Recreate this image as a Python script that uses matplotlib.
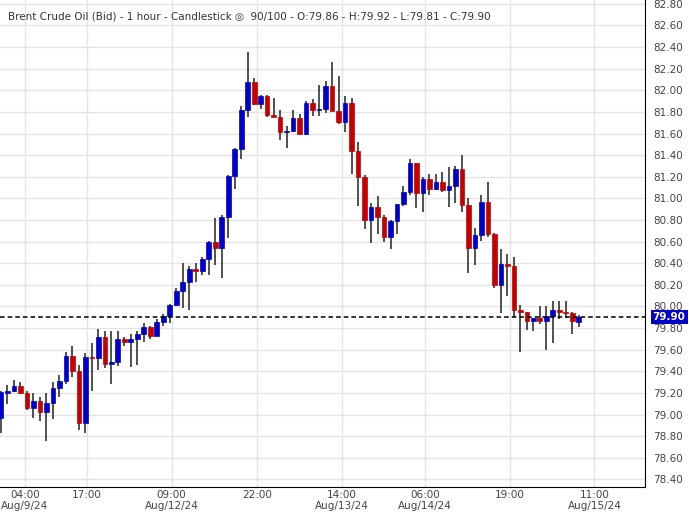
import matplotlib.pyplot as plt
from matplotlib.patches import Rectangle

# hourly OHLC
opens = [78.97, 79.20, 79.22, 79.26, 79.20, 79.06, 79.13, 79.02, 79.11, 79.25,
         79.31, 79.54, 79.40, 78.92, 79.53, 79.52, 79.72, 79.47, 79.49, 79.70,
         79.67, 79.70, 79.75, 79.81, 79.73, 79.86, 79.91, 80.01, 80.14, 80.23,
         80.35, 80.33, 80.44, 80.60, 80.54, 80.83, 81.21, 81.46, 81.82, 82.08,
         81.87, 81.95, 81.77, 81.75, 81.61, 81.62, 81.74, 81.60, 81.88, 81.82,
         81.83, 82.04, 81.81, 81.71, 81.88, 81.44, 81.20, 80.80, 80.92, 80.83,
         80.64, 80.79, 80.95, 81.06, 81.33, 81.05, 81.18, 81.09, 81.15, 81.08,
         81.11, 81.27, 80.94, 80.54, 80.66, 80.97, 80.67, 80.20, 80.39, 80.37,
         79.97, 79.95, 79.87, 79.89, 79.87, 79.91, 79.97, 79.95, 79.94, 79.86]
closes = [79.21, 79.22, 79.26, 79.20, 79.06, 79.13, 79.02, 79.11, 79.25, 79.31,
          79.54, 79.40, 78.92, 79.53, 79.52, 79.72, 79.47, 79.49, 79.70, 79.67,
          79.70, 79.75, 79.81, 79.73, 79.86, 79.91, 80.01, 80.14, 80.23, 80.35,
          80.33, 80.44, 80.60, 80.54, 80.83, 81.21, 81.46, 81.82, 82.08, 81.87,
          81.95, 81.77, 81.75, 81.61, 81.62, 81.74, 81.60, 81.88, 81.82, 81.83,
          82.04, 81.81, 81.71, 81.88, 81.44, 81.20, 80.80, 80.92, 80.83, 80.64,
          80.79, 80.95, 81.06, 81.33, 81.05, 81.18, 81.09, 81.15, 81.08, 81.11,
          81.27, 80.94, 80.54, 80.66, 80.97, 80.67, 80.20, 80.39, 80.37, 79.97,
          79.95, 79.87, 79.89, 79.87, 79.91, 79.97, 79.95, 79.94, 79.87, 79.90]
highs = [79.22, 79.27, 79.32, 79.30, 79.22, 79.20, 79.16, 79.20, 79.30, 79.37,
         79.58, 79.63, 79.46, 79.57, 79.66, 79.79, 79.77, 79.77, 79.77, 79.72,
         79.75, 79.77, 79.85, 79.82, 79.88, 79.93, 80.02, 80.17, 80.40, 80.37,
         80.40, 80.46, 80.61, 80.82, 80.85, 81.22, 81.47, 81.85, 82.35, 82.11,
         81.96, 81.96, 81.93, 81.82, 81.67, 81.82, 81.78, 81.90, 81.92, 82.05,
         82.09, 82.26, 82.13, 81.95, 81.93, 81.52, 81.22, 80.96, 81.02, 80.85,
         80.80, 80.95, 81.11, 81.36, 81.33, 81.20, 81.23, 81.23, 81.24, 81.29,
         81.30, 81.40, 81.00, 80.73, 81.03, 81.15, 80.68, 80.53, 80.49, 80.46,
         80.01, 79.95, 79.89, 80.00, 80.00, 80.05, 80.05, 80.05, 79.95, 79.92]
lows = [78.83, 79.10, 79.21, 79.19, 79.04, 78.97, 78.94, 78.76, 78.96, 79.16,
        79.28, 79.35, 78.86, 78.83, 79.22, 79.41, 79.43, 79.28, 79.45, 79.63,
        79.44, 79.46, 79.67, 79.70, 79.73, 79.82, 79.85, 80.00, 79.99, 79.97,
        80.23, 80.29, 80.29, 80.38, 80.26, 80.63, 81.09, 81.36, 81.75, 81.86,
        81.83, 81.75, 81.75, 81.54, 81.47, 81.61, 81.59, 81.59, 81.76, 81.76,
        81.79, 81.81, 81.69, 81.61, 81.23, 80.93, 80.72, 80.59, 80.67, 80.60,
        80.53, 80.67, 80.93, 81.03, 80.91, 80.87, 81.03, 81.08, 81.06, 80.92,
        80.96, 80.87, 80.31, 80.38, 80.61, 80.64, 80.17, 79.94, 80.10, 79.90,
        79.58, 79.78, 79.77, 79.84, 79.60, 79.66, 79.88, 79.89, 79.75, 79.81]

tick_pos = [3.7, 13.2, 26.3, 39.4, 52.5, 65.3, 78.4, 91.4]
tick_labels = ["04:00\nAug/9/24", "17:00", "09:00\nAug/12/24", "22:00",
               "14:00\nAug/13/24", "06:00\nAug/14/24", "19:00", "11:00\nAug/15/24"]
last_price = 79.90

blue = "#0000c8"
red = "#c40000"

fig = plt.figure(figsize=(6.89, 5.14), dpi=100)
ax = fig.add_axes([0, 0.0525, 645 / 689, 0.9475])

for i, (o, h, l, c) in enumerate(zip(opens, highs, lows, closes)):
    col = blue if c >= o else red
    ax.vlines(i, l, h, color="#333333", linewidth=1.2, zorder=2)
    body = max(abs(c - o), 0.008)
    ax.add_patch(Rectangle((i - 0.36, min(o, c)), 0.72, body,
                           facecolor=col, edgecolor=col, linewidth=0.5, zorder=3))

ax.axhline(last_price, color="black", linestyle=(0, (3, 2)), linewidth=1.1, zorder=4)

ax.set_xlim(-0.15, 99.2)
ax.set_ylim(78.33, 82.835)
ax.yaxis.tick_right()
yt = [78.40 + 0.2 * k for k in range(23)]
ax.set_yticks(yt)
ax.set_yticklabels([f"{v:.2f}" for v in yt])
ax.set_xticks(tick_pos)
ax.set_xticklabels(tick_labels)
ax.tick_params(axis="both", labelsize=7.5, colors="#444444", length=0, pad=6)
ax.tick_params(axis="x", pad=2)
ax.grid(True, color="#e4e4e4", linewidth=1)
ax.set_axisbelow(True)
for s in ["top", "left"]:
    ax.spines[s].set_visible(False)
ax.spines["right"].set_color("black")
ax.spines["bottom"].set_color("black")

# price tag on the right axis
ax.text(1.012, last_price, f"{last_price:.2f}", transform=ax.get_yaxis_transform(),
        color="white", fontsize=7.5, fontweight="bold", va="center", ha="left",
        bbox=dict(facecolor="#0000c8", edgecolor="none", boxstyle="square,pad=0.2"),
        zorder=5)

ax.text(0.012, 0.967,
        "Brent Crude Oil (Bid) - 1 hour - Candlestick \u25ce  90/100 - O:79.86 - H:79.92 - L:79.81 - C:79.90",
        transform=ax.transAxes, fontsize=7.5, color="#333333", va="center")

fig.savefig("out.png", dpi=100)
